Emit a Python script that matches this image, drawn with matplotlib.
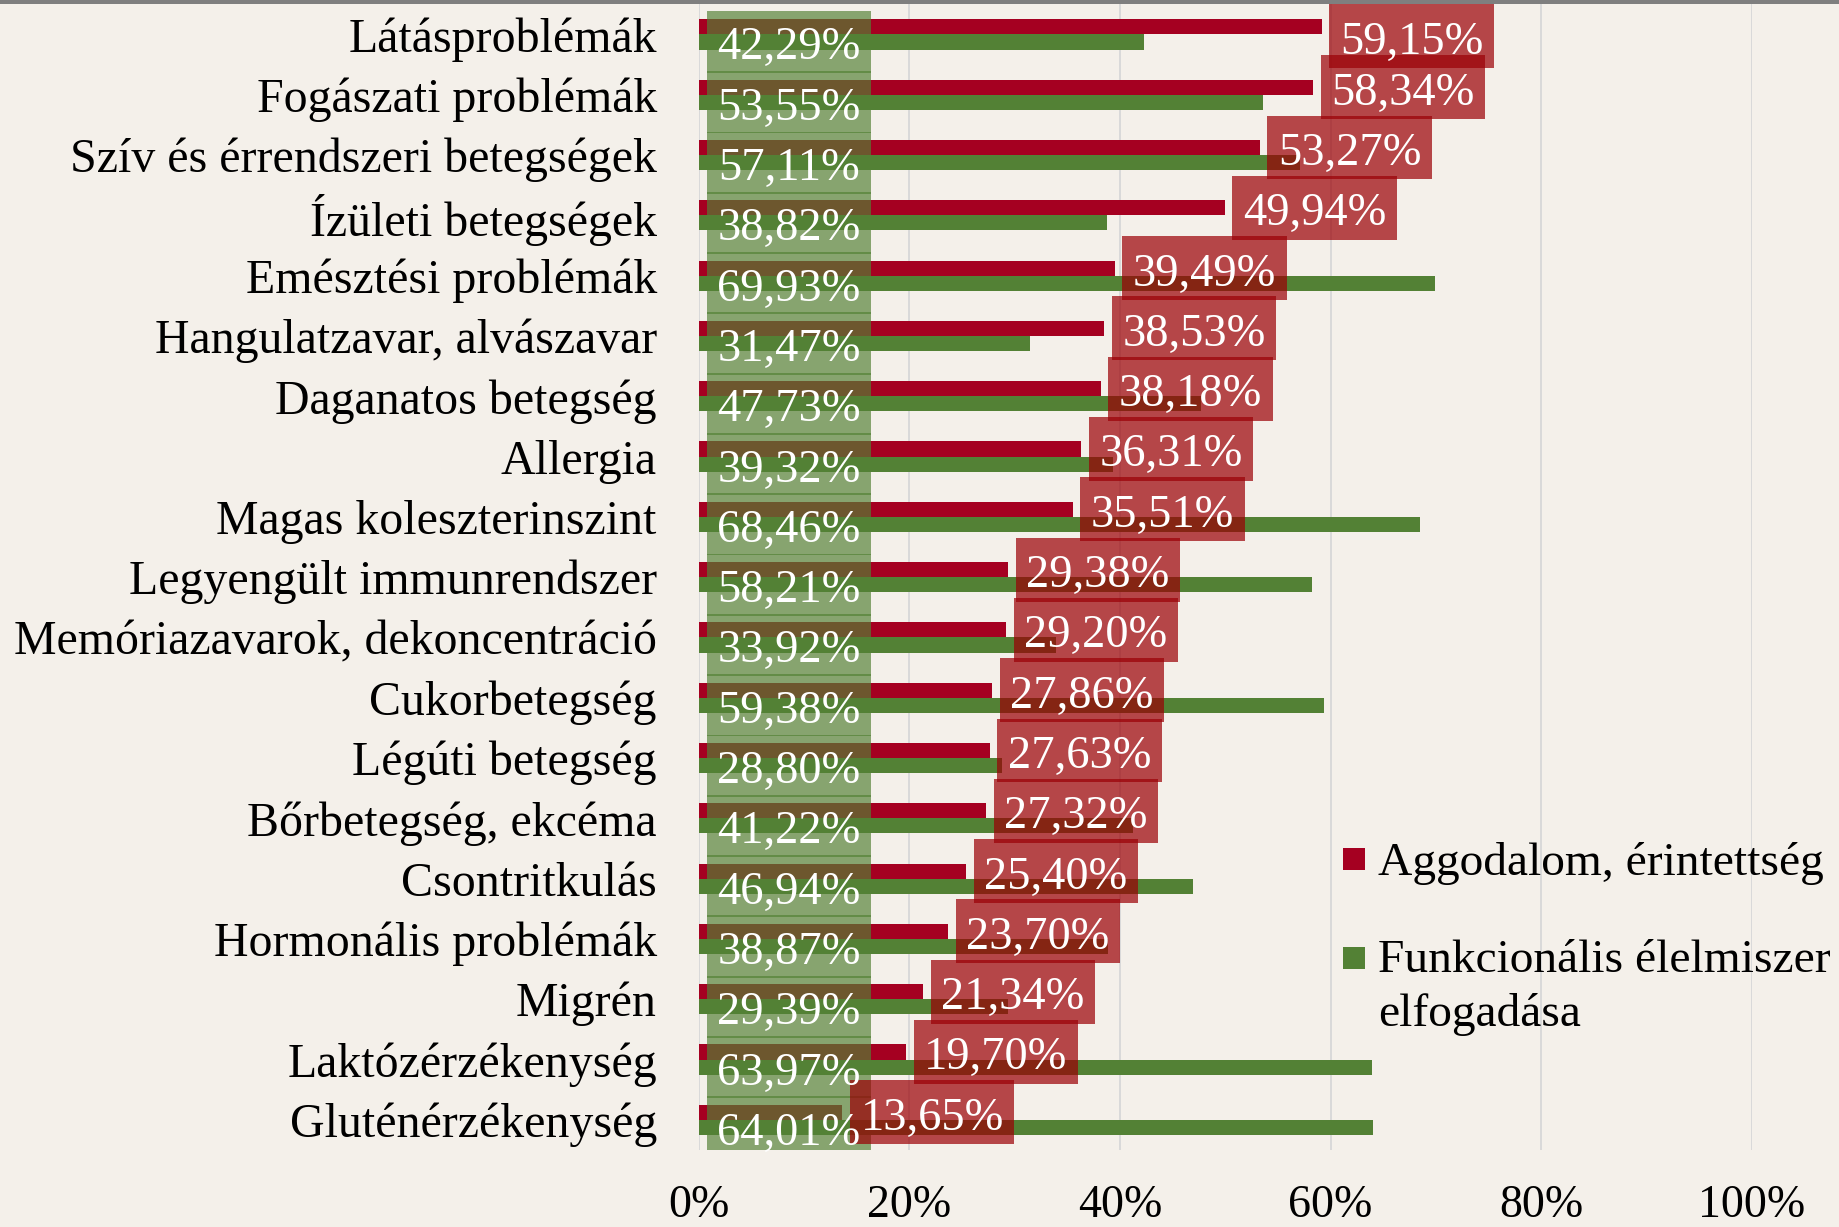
import matplotlib.pyplot as plt
from matplotlib.patches import Rectangle
from matplotlib.ticker import FuncFormatter

categories = [
    'Látásproblémák', 'Fogászati problémák', 'Szív és érrendszeri betegségek',
    'Ízületi betegségek', 'Emésztési problémák', 'Hangulatzavar, alvászavar',
    'Daganatos betegség', 'Allergia', 'Magas koleszterinszint',
    'Legyengült immunrendszer', 'Memóriazavarok, dekoncentráció',
    'Cukorbetegség', 'Légúti betegség', 'Bőrbetegség, ekcéma', 'Csontritkulás',
    'Hormonális problémák', 'Migrén', 'Laktózérzékenység', 'Gluténérzékenység',
]
aggodalom = [59.15, 58.34, 53.27, 49.94, 39.49, 38.53, 38.18, 36.31, 35.51,
             29.38, 29.20, 27.86, 27.63, 27.32, 25.40, 23.70, 21.34, 19.70, 13.65]
elfogadas = [42.29, 53.55, 57.11, 38.82, 69.93, 31.47, 47.73, 39.32, 68.46,
             58.21, 33.92, 59.38, 28.80, 41.22, 46.94, 38.87, 29.39, 63.97, 64.01]
xticks = [0, 20, 40, 60, 80, 100]
legend_labels = ['Aggodalom, érintettség', 'Funkcionális élelmiszer', 'elfogadása']

BG = '#F4F0EA'
RED = '#A50021'
GREEN = '#538135'
SERIF = 'Liberation Serif'

W, H = 1839, 1227
fig = plt.figure(figsize=(W / 100, H / 100), dpi=100, facecolor=BG)
ax = fig.add_axes([698.5 / W, (H - 1150) / H, 1053.5 / W, 1145.7 / H])
ax.set_facecolor(BG)

# dark strip along the top edge of the picture
fig.patches.append(Rectangle((0, 1 - 4.3 / H), 1, 4.3 / H, transform=fig.transFigure,
                             facecolor='#7F7F7F', edgecolor='none'))

y = list(range(len(categories)))
bh = 0.25
y_red = [v - bh / 2 for v in y]
y_green = [v + bh / 2 for v in y]

ax.barh(y_red, aggodalom, height=bh, color=RED, zorder=2)
ax.barh(y_green, elfogadas, height=bh, color=GREEN, zorder=2)


def fmt(v):
    return f'{v:.2f}%'.replace('.', ',')


# label boxes: width in % of x axis, height in rows
box_w = 15.6
red_h, green_h = 1.06, 1.03
base_off = 0.29  # text baseline below box centre, in rows

# green labels sit at the base of the bars
for yy, v in zip(y_green, elfogadas):
    ax.add_patch(Rectangle((0.78, yy - green_h / 2), box_w, green_h,
                           facecolor=GREEN, edgecolor='none', alpha=0.68, zorder=3))
    ax.text(0.78 + box_w / 2, yy + base_off, fmt(v), ha='center', va='baseline',
            color='white', fontsize=33.5, family=SERIF, zorder=5)

# red labels just past the bar end, kept inside the plot at the top
for yy, v in zip(y_red, aggodalom):
    yc = max(yy, -0.5 + red_h / 2)
    x0 = v + 0.73
    ax.add_patch(Rectangle((x0, yc - red_h / 2), box_w, red_h,
                           facecolor='#9B0006', edgecolor='none', alpha=0.71, zorder=4))
    ax.text(x0 + box_w / 2, yc + base_off, fmt(v), ha='center', va='baseline',
            color='white', fontsize=33.5, family=SERIF, zorder=5)

ax.set_xlim(0, 100)
ax.set_ylim(len(categories) - 0.5, -0.5)
ax.set_xticks(xticks)
ax.xaxis.set_major_formatter(FuncFormatter(lambda x, p: f'{x:.0f}%'))
ax.set_yticks(y)
ax.set_yticklabels(categories)
ax.grid(axis='x', color='#D9D9D9', linewidth=1.4, zorder=0)
ax.set_axisbelow(True)
for s in ax.spines.values():
    s.set_visible(False)
ax.tick_params(axis='x', length=0, pad=25, labelsize=33)
ax.tick_params(axis='y', length=0, pad=30, labelsize=34.5)
for lab in ax.get_xticklabels() + ax.get_yticklabels():
    lab.set_family(SERIF)

# legend drawn by hand so the green square lines up with the first text line
for (top, col) in [(848, RED), (947, GREEN)]:
    fig.patches.append(Rectangle((1343 / W, 1 - (top + 22) / H), 22 / W, 22 / H,
                                 transform=fig.transFigure, facecolor=col,
                                 edgecolor='none'))
for lab, base in zip(legend_labels, [875, 972, 1026]):
    fig.text(1378 / W, 1 - base / H, lab, ha='left', va='baseline',
             fontsize=34.2, family=SERIF, color='black')

fig.savefig('out.png', dpi=100, facecolor=BG)
